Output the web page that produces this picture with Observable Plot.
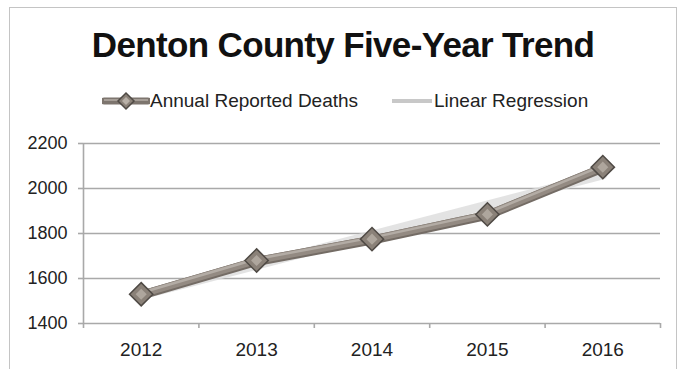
<!DOCTYPE html>
<html>
<head>
<meta charset="utf-8">
<script src="https://cdn.jsdelivr.net/npm/d3@7"></script>
<script src="https://cdn.jsdelivr.net/npm/@observablehq/plot@0.6"></script>
<style>
  html, body { margin: 0; padding: 0; background: #fff; }
  body { width: 686px; height: 369px; position: relative; overflow: hidden; font-family: "Liberation Sans", Arial, sans-serif; }
  #frame { position: absolute; left: 9px; top: 7px; width: 668px; height: 400px; border: 1.5px solid #c4c4c4; box-sizing: border-box; }
  #title { position: absolute; left: 0; width: 686px; top: 25px; text-align: center; font-weight: bold; font-size: 35px; color: #111; letter-spacing: -0.65px; }
  #legend { position: absolute; top: 89px; left: 0; width: 686px; height: 24px; font-size: 19px; color: #222; }
  .li { position: absolute; top: 0; display: flex; align-items: center; height: 24px; }
  #chart { position: absolute; left: 0; top: 130px; }
</style>
</head>
<body>
<div id="frame"></div>
<div id="title">Denton County Five-Year Trend</div>
<div id="legend">
  <div class="li" style="left:102px">
    <svg width="48" height="24">
      <line x1="2" y1="12" x2="46" y2="12" stroke="#7d756e" stroke-width="7" stroke-linecap="round"/>
      <line x1="2" y1="11" x2="46" y2="11" stroke="#a69e97" stroke-width="2"/>
      <path d="M24,4 L32,12 L24,20 L16,12 Z" fill="#8a8178" stroke="#4f4a45" stroke-width="1.5"/>
      <path d="M24,8 L28,12 L24,16 L20,12 Z" fill="#b9b1a8"/>
    </svg>
    <span style="margin-left:0px">Annual Reported Deaths</span>
  </div>
  <div class="li" style="left:392px">
    <svg width="40" height="24"><line x1="0" y1="12" x2="40" y2="12" stroke="#c8c8c8" stroke-width="4"/></svg>
    <span style="margin-left:2px">Linear Regression</span>
  </div>
</div>
<div id="chart"></div>
<script>
const years = [2012, 2013, 2014, 2015, 2016];
const deaths = [1530, 1680, 1775, 1885, 2095];
const regYears = [2012, 2016];
const regValues = [1526, 2060];
const yTicks = [1400, 1600, 1800, 2000, 2200];
const xBoundaries = [2011.5, 2012.5, 2013.5, 2014.5, 2015.5, 2016.5];

const series = years.map((y, i) => ({year: y, value: deaths[i]}));
const regression = regYears.map((y, i) => ({year: y, value: regValues[i]}));

const gridColor = "#a9a9a9";

const plot = Plot.plot({
  width: 686,
  height: 239,
  marginLeft: 83,
  marginRight: 26,
  marginTop: 13,
  marginBottom: 46,
  style: {fontFamily: "'Liberation Sans', Arial, sans-serif", background: "transparent"},
  x: {domain: [2011.5, 2016.5]},
  y: {domain: [1400, 2200]},
  marks: [
    Plot.ruleY(yTicks, {stroke: gridColor, strokeWidth: 1.6}),
    Plot.ruleX([2011.5], {y1: 1400, y2: 2200, stroke: gridColor, strokeWidth: 1.6}),
    Plot.axisY({ticks: yTicks, tickSize: 5, tickPadding: 11, stroke: gridColor, strokeWidth: 1.6, fontSize: 18, fill: "#222", label: null, tickFormat: d => String(d)}),
    Plot.axisX({ticks: xBoundaries, tickSize: 5, tickFormat: () => "", stroke: gridColor, strokeWidth: 1.6, label: null}),
    Plot.axisX({ticks: years, tickSize: 0, tickPadding: 19, fontSize: 19, fill: "#222", label: null, tickFormat: d => String(d)}),
    Plot.line(regression, {x: "year", y: "value", stroke: "#dcdcdc", strokeWidth: 9, strokeOpacity: 0.8}),
    Plot.line(series, {x: "year", y: "value", stroke: "#746c65", strokeWidth: 9, dy: 1}),
    Plot.line(series, {x: "year", y: "value", stroke: "#938a82", strokeWidth: 7}),
    Plot.line(series, {x: "year", y: "value", stroke: "#b3aca5", strokeWidth: 2.5, dy: -1.5}),
    Plot.dot(series, {x: "year", y: "value", symbol: "diamond2", r: 10.5, fill: "#8a8178", stroke: "#4f4a45", strokeWidth: 1.5}),
    Plot.dot(series, {x: "year", y: "value", symbol: "diamond2", r: 5, fill: "#aea69d", stroke: "none"})
  ]
});
document.getElementById("chart").appendChild(plot);
</script>
</body>
</html>
